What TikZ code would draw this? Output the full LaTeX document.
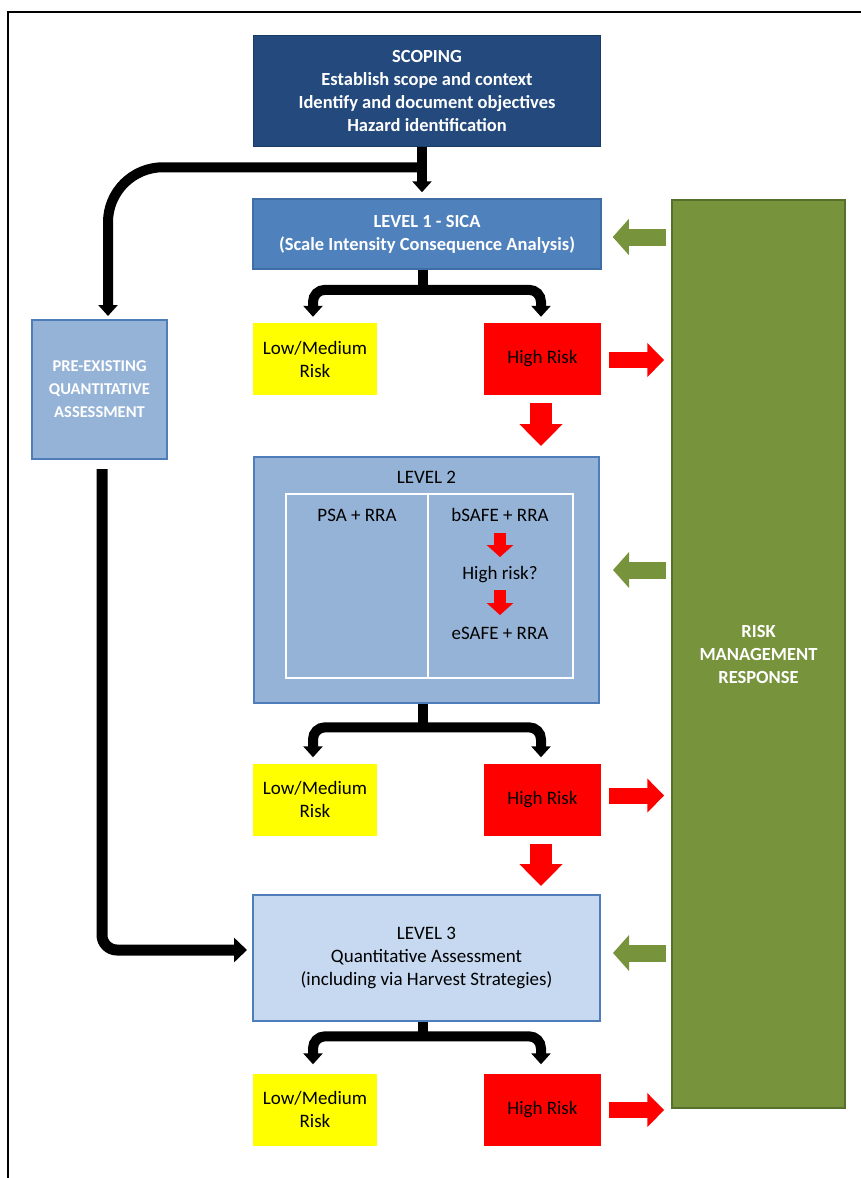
\documentclass[tikz,border=0pt]{standalone}
\usepackage{fontspec}
\setmainfont{Carlito}
\usetikzlibrary{arrows.meta,calc}
\definecolor{navy}{HTML}{244A7D}
\definecolor{navyline}{HTML}{1B3A63}
\definecolor{midblue}{HTML}{4F81BD}
\definecolor{midline}{HTML}{3F6DA6}
\definecolor{paleblue}{HTML}{95B3D7}
\definecolor{lightblue}{HTML}{C6D9F1}
\definecolor{boxline}{HTML}{4F7DBA}
\definecolor{olive}{HTML}{77933C}
\definecolor{oliveline}{HTML}{55702A}
\definecolor{riskred}{HTML}{FF0000}
\definecolor{riskyellow}{HTML}{FFFF00}
\tikzset{
  ktip/.tip={Triangle[width=19pt,length=11pt]},
  box/.style={rectangle, inner sep=0pt, align=center},
  boldw/.style={font=\fontsize{18.5}{23}\selectfont\bfseries, text=white},
  regk/.style={font=\fontsize{19}{23}\selectfont, text=black},
  kline/.style={draw=black, line width=10pt, line cap=butt},
  redR/.style={draw=riskred, line width=16pt, -{Triangle[width=33pt,length=17pt]}},
  greenL/.style={draw=olive, line width=17pt, -{Triangle[width=35pt,length=16pt]}},
  redD/.style={draw=riskred, line width=22pt, -{Triangle[width=42pt,length=22pt]}},
  redS/.style={draw=riskred, line width=12pt, -{Triangle[width=26pt,length=12pt]}},
  lowbox/.style={box, regk, fill=riskyellow, minimum width=124pt, minimum height=72pt},
  highbox/.style={box, regk, fill=riskred, minimum width=117pt, minimum height=72pt},
}
\begin{document}
\begin{tikzpicture}[x=1pt,y=-1pt]
\useasboundingbox (0,0) rectangle (861,1178);
\fill[white] (0,0) rectangle (861,1178);
% frame
\draw[line width=2pt] (8,1178) -- (8,12) -- (861,12);

% boxes
\node[box, boldw, fill=navy, draw=navyline, line width=1.5pt, minimum width=347pt, minimum height=111pt] (scoping) at (427,91)
  {SCOPING\\Establish scope and context\\Identify and document objectives\\Hazard identification};
\node[box, boldw, fill=midblue, draw=midline, line width=1.5pt, minimum width=348pt, minimum height=70pt] (l1) at (427,234)
  {LEVEL 1 - SICA\\(Scale Intensity Consequence Analysis)};
\node[box, font=\fontsize{18.5}{23}\selectfont\bfseries, text=white, fill=olive, draw=oliveline, line width=1.5pt, minimum width=173pt, minimum height=908pt] (rmr) at (758.5,654)
  {RISK\\MANAGEMENT\\RESPONSE};
\node[box, font=\fontsize{16.5}{23}\selectfont\bfseries, text=white, fill=paleblue, draw=boxline, line width=2pt, minimum width=135pt, minimum height=139pt] (pre) at (99.5,389.5)
  {PRE-EXISTING\\QUANTITATIVE\\ASSESSMENT};

\node[lowbox] (lm1) at (315,359) {Low/Medium\\Risk};
\node[highbox] (hr1) at (542.5,359) {High Risk};

\node[box, fill=paleblue, draw=boxline, line width=2pt, minimum width=345pt, minimum height=246pt] (l2) at (426.5,580) {};
\node[box, regk] (l2t) at ($(l2.north)+(0,21)$) {LEVEL 2};
\node[box, draw=white, line width=2.5pt, minimum width=287pt, minimum height=184pt] (inner) at (429.5,586) {};
\draw[white, line width=2.5pt] ($(inner.north)+(-1.5,0)$) -- ($(inner.south)+(-1.5,0)$);
\node[box, regk] (psa) at (357,515) {PSA + RRA};
\node[box, regk] (bsafe) at (500,515) {bSAFE + RRA};
\node[box, regk] (hrq) at (500,575) {High risk?};
\node[box, regk] (esafe) at (500,633) {eSAFE + RRA};
\draw[redS] ($(bsafe.center)+(0,18)$) -- ($(hrq.center)+(0,-18)$);
\draw[redS] ($(hrq.center)+(0,15)$) -- ($(esafe.center)+(0,-18)$);

\node[lowbox] (lm2) at (315,799.5) {Low/Medium\\Risk};
\node[highbox] (hr2) at (542.5,799.5) {High Risk};

\node[box, regk, fill=lightblue, draw=boxline, line width=2pt, minimum width=347pt, minimum height=126pt] (l3) at (426.5,958)
  {LEVEL 3\\Quantitative Assessment\\(including via Harvest Strategies)};

\node[lowbox] (lm3) at (315,1109.5) {Low/Medium\\Risk};
\node[highbox] (hr3) at (542.5,1109.5) {High Risk};

% scoping connectors
\coordinate (sj) at ($(scoping.south)+(-5,20)$);
\coordinate (pend) at ($(pre.north)+(8.5,-3)$);
\draw[kline, -ktip] ($(scoping.south)+(-5,0)$) -- ($(l1.north)+(-5,-6)$);
\draw[kline, -ktip, rounded corners=55pt] (sj) -- (sj -| pend) -- (pend);

% pre-existing to level 3
\coordinate (ps) at ($(pre.south)+(2.5,9)$);
\coordinate (l3in) at ($(l3.west)+(-5,-8)$);
\draw[kline, line width=11pt, -{Triangle[width=24pt,length=13pt]}, rounded corners=15pt] (ps) -- (ps |- l3in) -- (l3in);

% splits
\draw[kline] ($(l1.south)+(-4,0)$) -- ($(l1.south)+(-4,21)$);
\draw[kline, ktip-ktip, rounded corners=12pt] ($(lm1.north)+(-2,-6)$) -- ($(lm1.north)+(-2,-33)$) -- ($(hr1.north)+(-1.5,-33)$) -- ($(hr1.north)+(-1.5,-6)$);
\draw[kline] ($(l2.south)+(-3.5,0)$) -- ($(l2.south)+(-3.5,24)$);
\draw[kline, ktip-ktip, rounded corners=12pt] ($(lm2.north)+(-2,-6)$) -- ($(lm2.north)+(-2,-36)$) -- ($(hr2.north)+(-1.5,-36)$) -- ($(hr2.north)+(-1.5,-6)$);
\draw[kline] ($(l3.south)+(-3.5,0)$) -- ($(l3.south)+(-3.5,16)$);
\draw[kline, ktip-ktip, rounded corners=12pt] ($(lm3.north)+(-2,-9)$) -- ($(lm3.north)+(-2,-37)$) -- ($(hr3.north)+(-1.5,-37)$) -- ($(hr3.north)+(-1.5,-9)$);

% red arrows to risk management
\draw[redR] ($(hr1.east)+(8,1)$) -- ($(hr1.east -| rmr.west)+(-7,1)$);
\draw[redR] ($(hr2.east)+(8,-4)$) -- ($(hr2.east -| rmr.west)+(-7,-4)$);
\draw[redR] ($(hr3.east)+(8,0.5)$) -- ($(hr3.east -| rmr.west)+(-7,0.5)$);

% red down arrows
\draw[redD] ($(hr1.south)+(-1.5,8)$) -- ($(hr1.south |- l2.north)+(-1.5,-10)$);
\draw[redD] ($(hr2.south)+(-1.5,8)$) -- ($(hr2.south |- l3.north)+(-1.5,-8)$);

% green arrows from risk management
\draw[greenL] ($(l1.east -| rmr.west)+(-5,3)$) -- ($(l1.east)+(11,3)$);
\draw[greenL] ($(l2.east -| rmr.west)+(-5,-10)$) -- ($(l2.east)+(13,-10)$);
\draw[greenL] ($(l3.east -| rmr.west)+(-5,-5)$) -- ($(l3.east)+(12,-5)$);
\end{tikzpicture}
\end{document}
